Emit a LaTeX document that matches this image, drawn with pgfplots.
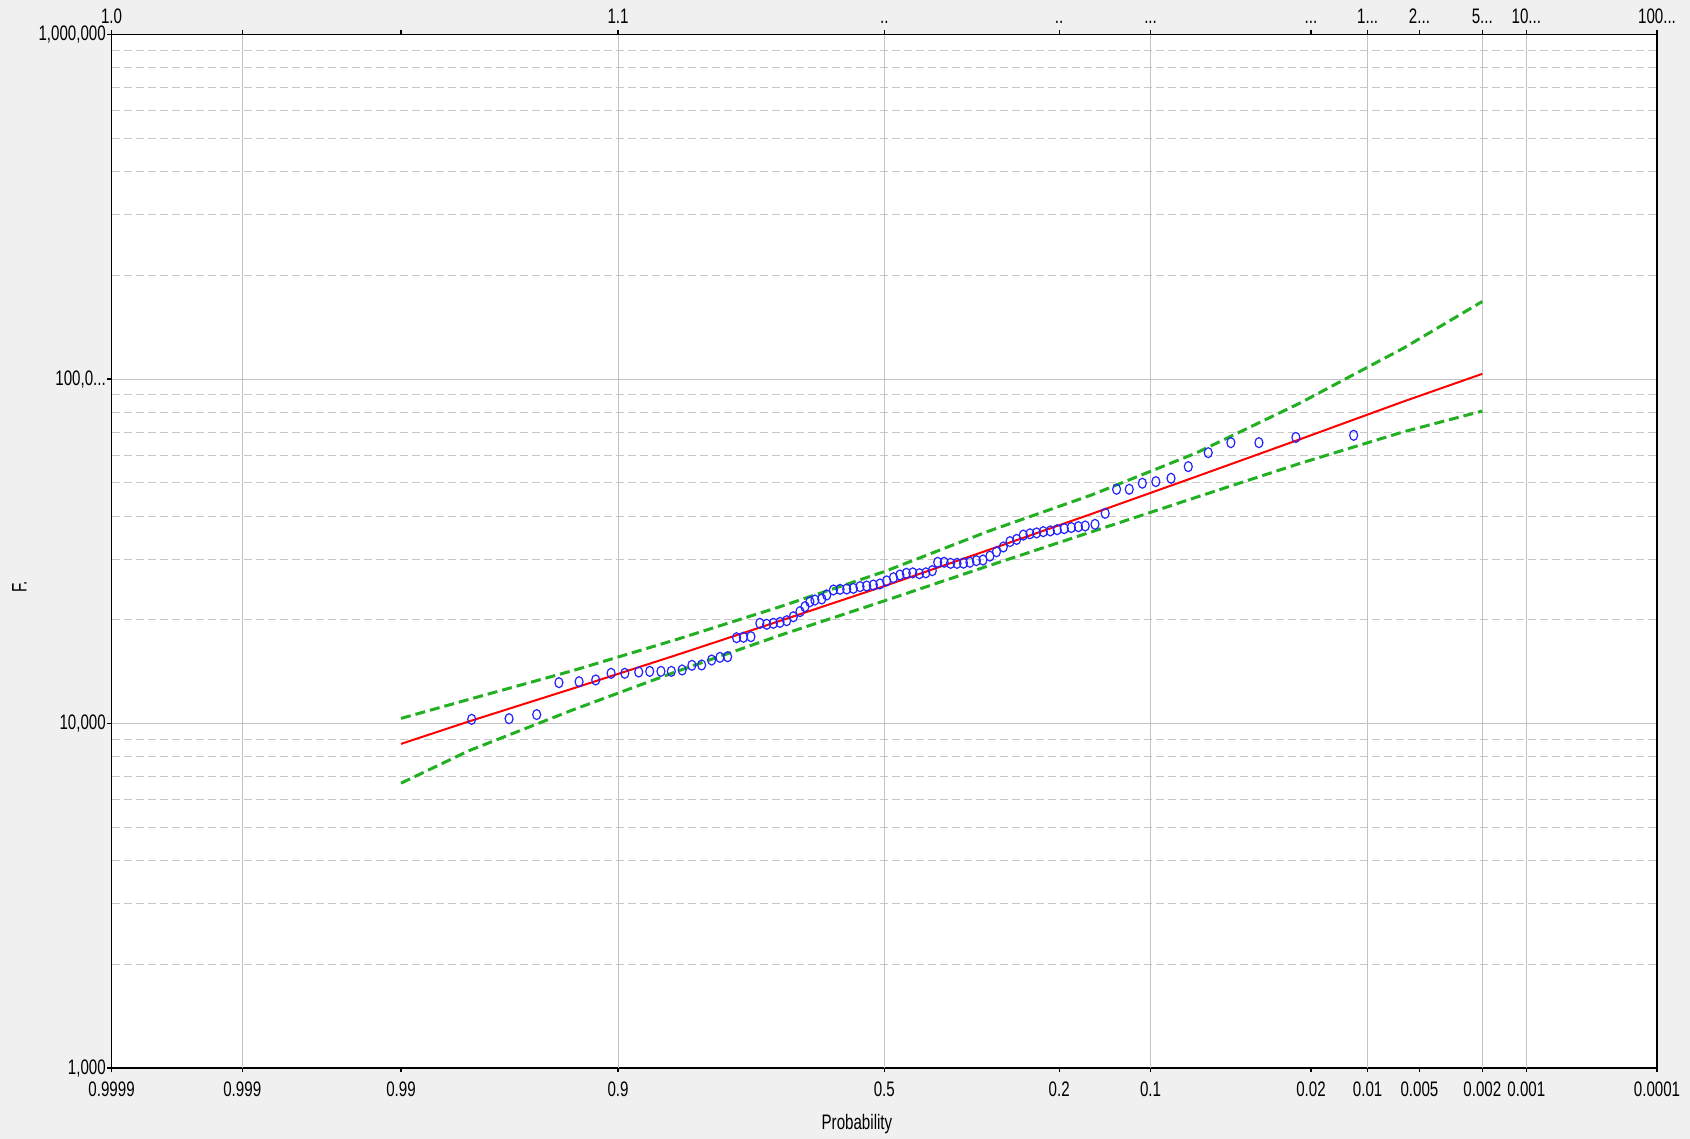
\documentclass[border=0pt]{standalone}
\usepackage{fontspec}
\setmainfont{Liberation Sans}[FakeStretch=0.72]
\usepackage{pgfplots}
\pgfplotsset{compat=1.18}
\definecolor{bg}{RGB}{240,240,240}
\definecolor{gridc}{RGB}{195,195,195}
\definecolor{mgrid}{RGB}{200,200,200}
\definecolor{fitred}{RGB}{255,0,0}
\definecolor{cigreen}{RGB}{34,176,34}
\definecolor{ptblue}{RGB}{35,35,255}
\newcommand{\lblfont}{\fontsize{10.5pt}{12pt}\selectfont}
\newcommand{\dd}{.{}.}
\newcommand{\ddd}{.{}.{}.}

\pgfplotstableread{
z v
-1.986 10287
-1.806 10332
-1.673 10619
-1.566 13143
-1.469 13227
-1.389 13381
-1.315 13992
-1.249 13992
-1.182 14112
-1.129 14174
-1.075 14174
-1.025 14174
-0.973 14308
-0.926 14757
-0.879 14791
-0.831 15290
-0.791 15567
-0.754 15635
-0.711 17748
-0.678 17800
-0.642 17875
-0.599 19543
-0.566 19417
-0.534 19543
-0.502 19670
-0.470 19884
-0.438 20420
-0.406 21123
-0.382 21835
-0.358 22571
-0.334 22832
-0.301 22996
-0.277 23619
-0.245 24416
-0.213 24523
-0.181 24574
-0.149 24682
-0.117 24968
-0.085 25077
-0.053 25240
-0.021 25420
0.011 25942
0.044 26504
0.075 26990
0.106 27302
0.137 27379
0.169 27222
0.200 27379
0.231 27780
0.257 29384
0.288 29384
0.319 29174
0.350 29174
0.381 29217
0.412 29384
0.443 29704
0.475 29834
0.508 30618
0.540 31513
0.573 32551
0.605 33742
0.637 34235
0.669 35237
0.701 35547
0.733 35752
0.765 36059
0.799 36242
0.832 36535
0.866 36797
0.900 37061
0.934 37275
0.967 37464
1.014 37872
1.063 40749
1.118 47863
1.179 47863
1.242 49830
1.307 50372
1.380 51510
1.463 55677
1.559 61122
1.668 65359
1.803 65359
1.981 67702
2.259 68646
}\pts

\pgfplotstableread{
z fit upper lower
-2.326 8730 10351 6714
-2.0 10139 11749 8337
-1.5 12634 14240 10952
-1.0 15812 17539 14158
-0.5 19884 21851 18053
0.0 25061 27606 22699
0.5 31879 36141 28677
1.0 40644 46132 36058
1.5 52059 60954 45343
2.0 66834 85114 56885
2.5 86099 123027 70307
2.878 103514 167880 80724
}\fitdata

\begin{document}
\begin{tikzpicture}
\fill[bg] (-55.8pt,-35.45pt) rectangle (789.2pt,534.05pt);
\useasboundingbox (-55.8pt,-35.45pt) rectangle (789.2pt,534.05pt);
\begin{axis}[
  at={(0pt,0pt)}, anchor=south west,
  scale only axis, width=772.7pt, height=516.8pt,
  xmin=-3.719, xmax=3.719,
  ymode=log, ymin=1000, ymax=1000000,
  axis background/.style={fill=white},
  axis line style={black, line width=0.8pt},
  tick align=outside, xtick pos=bottom, ytick pos=left,
  major tick length=2.2pt, minor tick length=0pt,
  tick style={black, line width=0.6pt},
  xtick={-3.719,-3.0902,-2.3263,-1.2816,0,0.8416,1.2816,2.0537,2.3263,2.5758,2.8782,3.0902,3.719},
  xticklabels={0.9999,0.999,0.99,0.9,0.5,0.2,0.1,0.02,0.01,0.005,0.002,0.001,0.0001},
  ytick={1000,10000,100000,1000000},
  yticklabels={{1,000},{10,000},{100,0\ddd},{1,000,000}},
  xticklabel style={font=\lblfont, inner sep=0.5pt, yshift=-4pt},
  yticklabel style={font=\lblfont, inner sep=0.5pt},
  ymajorgrids, yminorgrids,
  major grid style={gridc, line width=0.5pt},
  minor grid style={mgrid, line width=0.5pt, dash pattern=on 4pt off 2pt},
  extra x ticks={-3.0902,-1.2816,0,1.2816,2.3263,2.8782,3.0902},
  extra x tick labels={},
  extra x tick style={grid=major, major tick length=0pt},
  xlabel={Probability},
  ylabel={F.},
  xlabel style={font=\lblfont, at={(axis description cs:0.4823,0)}, anchor=center, yshift=-28pt},
  ylabel style={font=\lblfont, at={(axis description cs:-0.0597,0.4654)}, anchor=center},
  clip=true,
]
\addplot[cigreen, line width=1.5pt, dash pattern=on 5pt off 2.5pt] table[x=z, y=upper] {\fitdata};
\addplot[cigreen, line width=1.5pt, dash pattern=on 5pt off 2.5pt] table[x=z, y=lower] {\fitdata};
\addplot[fitred, line width=1pt] table[x=z, y=fit] {\fitdata};
\addplot[only marks, mark=o, mark size=2.5pt, ptblue, mark options={xscale=0.8, line width=0.6pt}] table[x=z, y=v] {\pts};
\end{axis}
\begin{axis}[
  at={(0pt,0pt)}, anchor=south west,
  scale only axis, width=772.7pt, height=516.8pt,
  xmin=-3.719, xmax=3.719, ymin=0, ymax=1,
  axis x line*=top, axis y line=none,
  axis line style={black, line width=0.8pt},
  tick align=outside, major tick length=2.2pt,
  tick style={black, line width=0.6pt},
  xtick={-3.719,-3.0902,-2.3263,-1.2816,0,0.8416,1.2816,2.0537,2.3263,2.5758,2.8782,3.0902,3.719},
  xticklabels={1.0,,,1.1,\dd,\dd,\ddd,\ddd,1\ddd,2\ddd,5\ddd,10\ddd,100\ddd},
  xticklabel style={font=\lblfont, inner sep=0.5pt, yshift=2.7pt},
]
\end{axis}
\end{tikzpicture}
\end{document}
